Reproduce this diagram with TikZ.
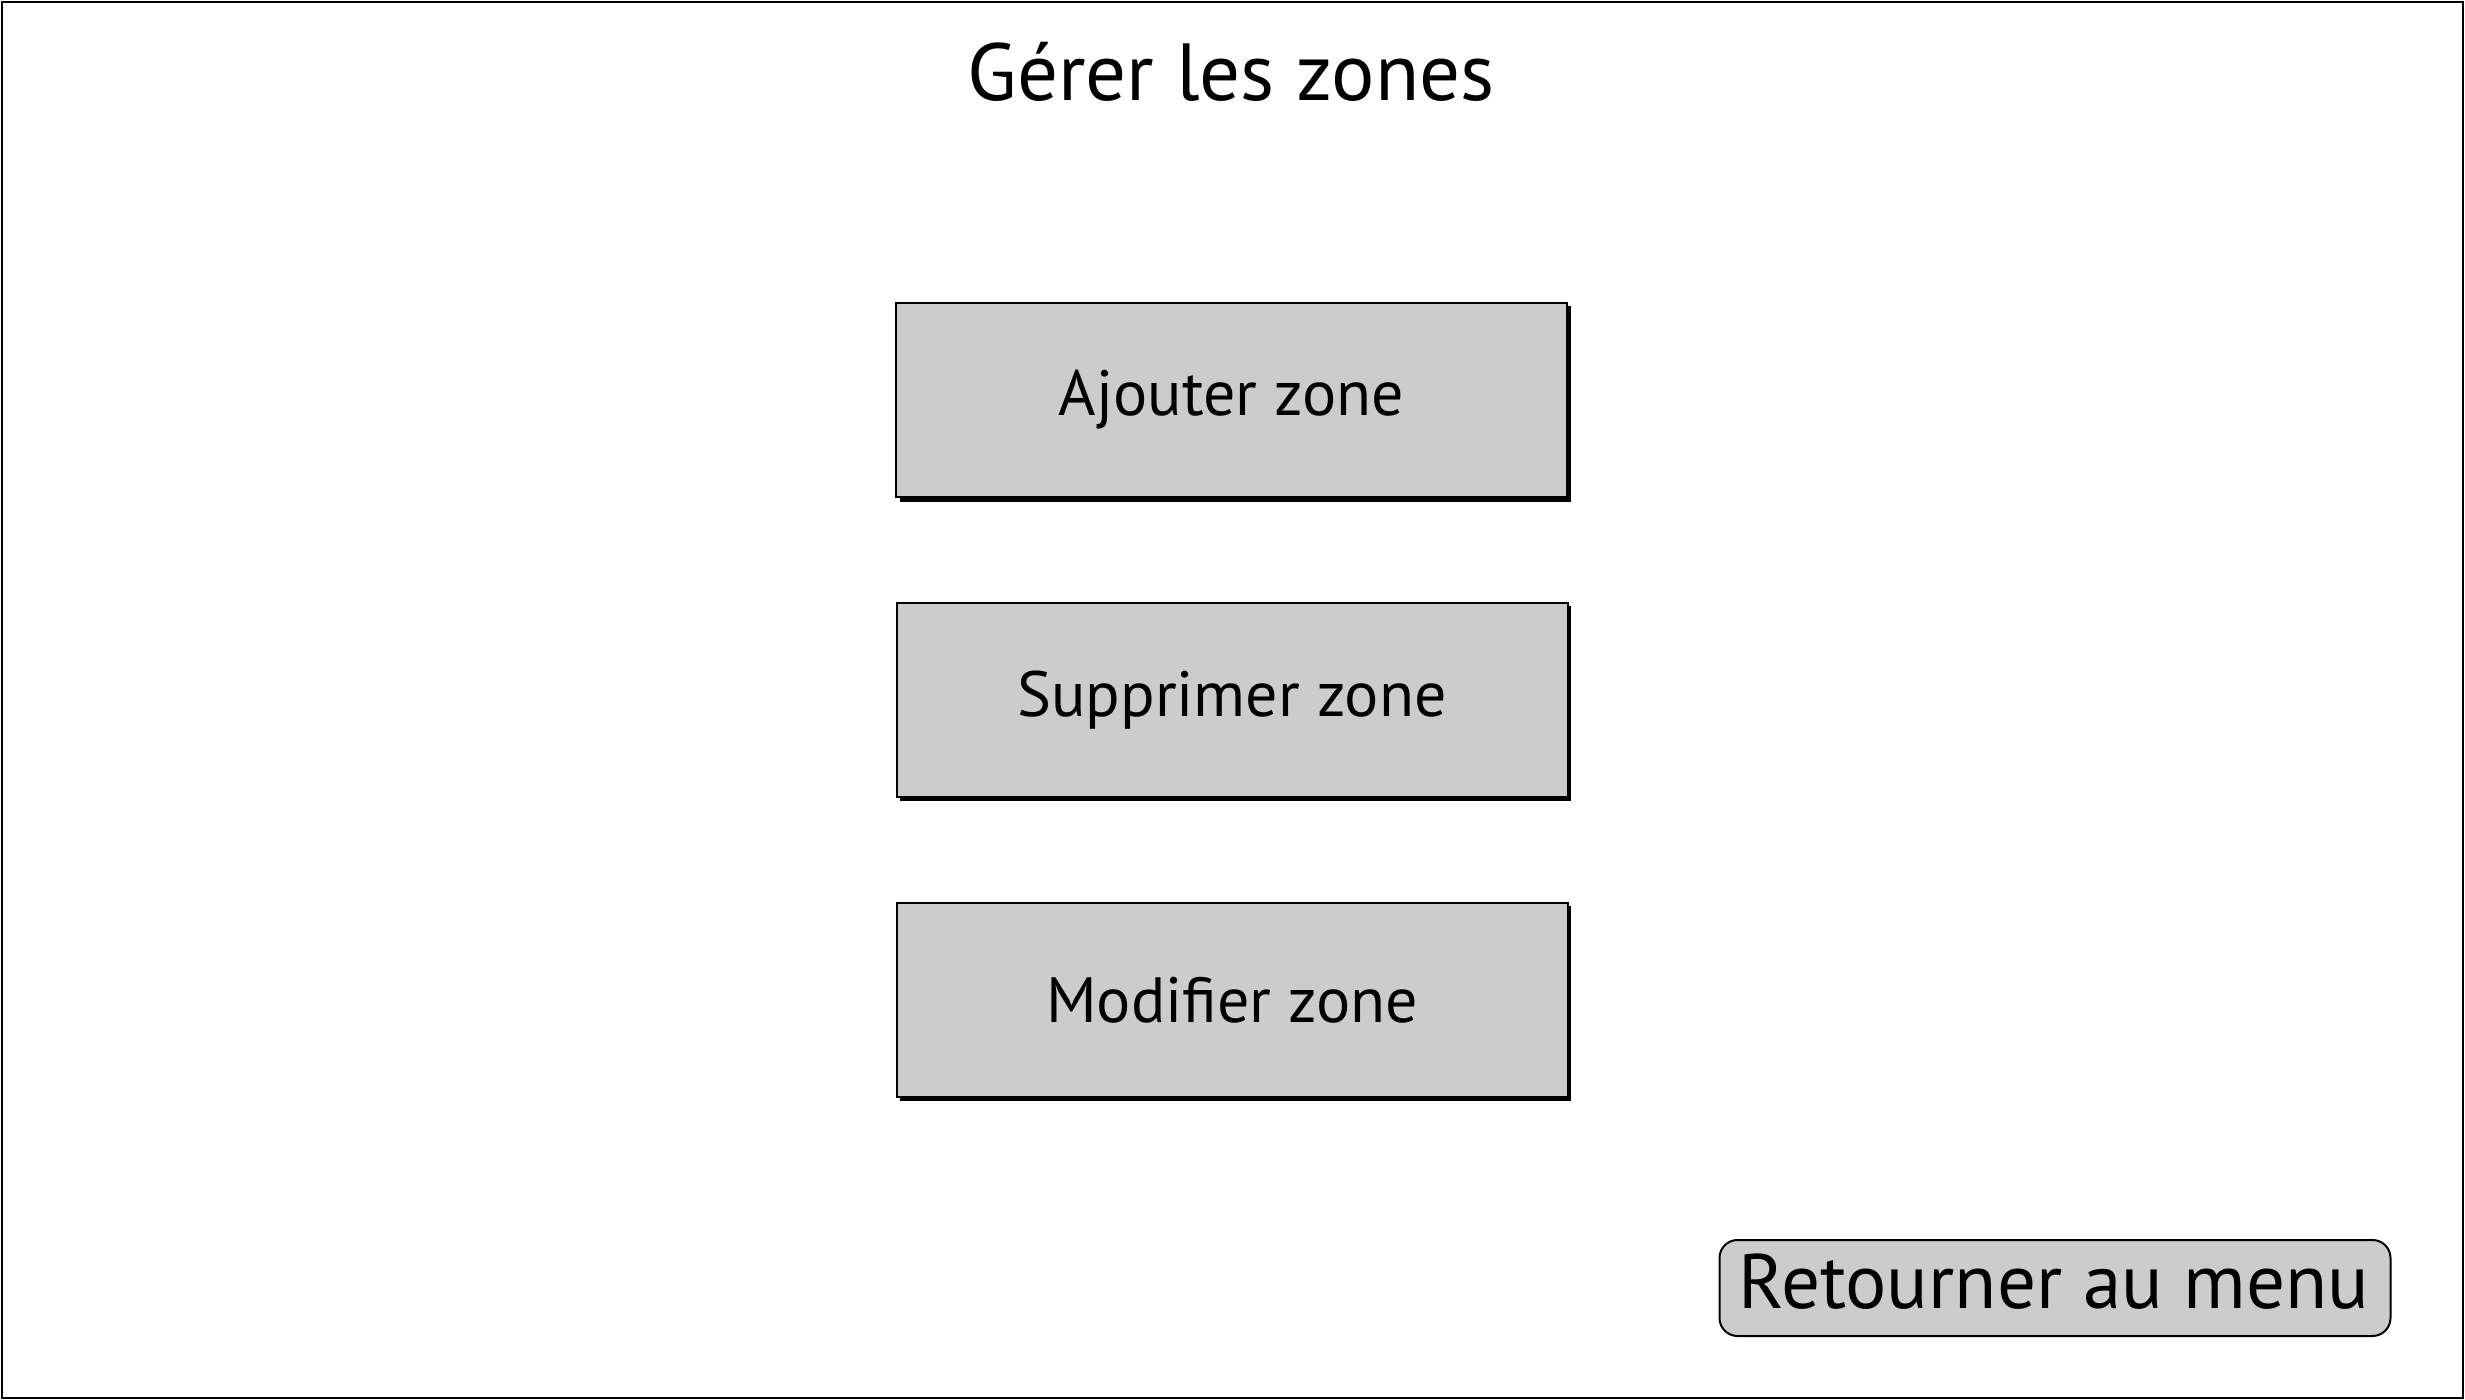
\documentclass[tikz,border=0pt]{standalone}
\usepackage{fontspec}
\setmainfont{PT Sans}
\begin{document}
\begin{tikzpicture}[x=0.5pt,y=-0.5pt,
  btn/.style={draw=black,line width=1pt,fill=black!20,minimum width=335.5pt,minimum height=97pt,inner sep=0pt,font=\fontsize{32}{36}\selectfont},
  shadow/.style={fill=black},
  retbtn/.style={draw=black,line width=1pt,fill=black!20,rounded corners=9pt,minimum width=335.5pt,minimum height=48pt,inner sep=0pt,font=\fontsize{38.6}{44}\selectfont},
  titletext/.style={font=\fontsize{40.5}{44}\selectfont}]
\useasboundingbox (0,0) rectangle (2465,1400);
\fill[white] (0,0) rectangle (2465,1400);
\draw[line width=1.4pt] (2,2) rectangle (2463,1398);
\node[titletext] (title) at (1231,72) {Gérer les zones};
% shadows
\fill[shadow] (900,306) rectangle (1571,502);
\fill[shadow] (900,606) rectangle (1571,801);
\fill[shadow] (900,906) rectangle (1571,1101);
\node[btn] (add) at (1231.5,400) {Ajouter zone};
\node[btn] (del) at (1232,700) {Supprimer zone};
\node[btn] (mod) at (1232,1000) {Modifier zone};
\node[retbtn] (ret) at (2055,1288) {};
\node[font=\fontsize{38.6}{44}\selectfont] (rettext) at (2054,1282) {Retourner au menu};
\end{tikzpicture}
\end{document}
